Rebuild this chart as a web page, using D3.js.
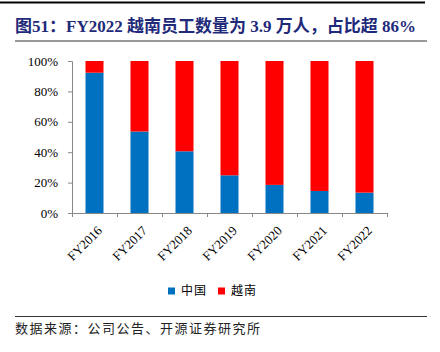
<!DOCTYPE html>
<html>
<head>
<meta charset="utf-8">
<script src="https://cdn.jsdelivr.net/npm/d3@7"></script>
<style>
  body { margin: 0; background: #fff; }
  svg { display: block; }
</style>
</head>
<body>
<div id="chart"></div>
<script>
// data
const years = ["FY2016", "FY2017", "FY2018", "FY2019", "FY2020", "FY2021", "FY2022"];
const china = [0.923, 0.536, 0.406, 0.248, 0.185, 0.145, 0.134];
const vietnam = china.map(v => 1 - v); // share, the two add up to 100%
const yTicks = [0, 0.2, 0.4, 0.6, 0.8, 1];
const seriesNames = ["中国", "越南"];
const colors = ["#0070C0", "#FF0000"];

const W = 440, H = 352;
const margin = { top: 61, left: 72, right: 53, bottom: 139 };
const width = W - margin.left - margin.right;
const height = H - margin.top - margin.bottom;
const serif = "'Liberation Serif', 'Times New Roman', serif";
const cjk = "'Noto Sans CJK SC', sans-serif";

const svg = d3.select("#chart").append("svg")
  .attr("width", W)
  .attr("height", H);

// header / footer rules and text
svg.append("line").attr("x1", 0).attr("x2", 425).attr("y1", 2.5).attr("y2", 2.5)
  .attr("stroke", "#000").attr("stroke-width", 2);
svg.append("text")
  .attr("x", 15).attr("y", 32)
  .attr("fill", "#1F2A7A")
  .attr("font-weight", "bold")
  .attr("font-size", 17)
  .style("font-family", serif + ", " + cjk)
  .text("图51：FY2022 越南员工数量为 3.9 万人，占比超 86%");
svg.append("line").attr("x1", 15).attr("x2", 427).attr("y1", 41).attr("y2", 41)
  .attr("stroke", "#999").attr("stroke-width", 2);
svg.append("line").attr("x1", 15).attr("x2", 427).attr("y1", 316.5).attr("y2", 316.5)
  .attr("stroke", "#333").attr("stroke-width", 1);
svg.append("text")
  .attr("x", 15).attr("y", 333)
  .attr("fill", "#222")
  .attr("font-size", 13)
  .attr("letter-spacing", 1.5)
  .style("font-family", cjk)
  .text("数据来源：公司公告、开源证券研究所");

const g = svg.append("g").attr("transform", `translate(${margin.left},${margin.top})`);

const x = d3.scaleBand().domain(years).range([0, width]).paddingInner(0.6).paddingOuter(0.3);
const y = d3.scaleLinear().domain([0, 1]).range([height, 0]);

const stackData = years.map((yr, i) => ({ year: yr, "中国": china[i], "越南": vietnam[i] }));
const stacked = d3.stack().keys(seriesNames)(stackData);

g.selectAll("g.series")
  .data(stacked)
  .join("g")
  .attr("class", "series")
  .attr("fill", (d, i) => colors[i])
  .selectAll("rect")
  .data(d => d)
  .join("rect")
  .attr("x", d => x(d.data.year))
  .attr("y", d => y(d[1]))
  .attr("width", x.bandwidth())
  .attr("height", d => y(d[0]) - y(d[1]));

// y axis
const yAxis = g.append("g")
  .call(d3.axisLeft(y).tickValues(yTicks).tickFormat(d3.format(".0%")).tickSize(4).tickPadding(10));
yAxis.select(".domain").attr("stroke", "#888");
yAxis.selectAll(".tick line").attr("stroke", "#888");
yAxis.selectAll("text").attr("font-size", 13).attr("fill", "#000").style("font-family", serif);

// x axis with ticks at the category boundaries
const bounds = d3.range(years.length + 1).map(i => i * x.step());
const xLin = d3.scaleLinear().domain([0, width]).range([0, width]);
const xAxis = g.append("g")
  .attr("transform", `translate(0,${height})`)
  .call(d3.axisBottom(xLin).tickValues(bounds).tickSize(4).tickFormat(""));
xAxis.select(".domain").attr("stroke", "#888");
xAxis.selectAll(".tick line").attr("stroke", "#888");

g.append("g")
  .selectAll("text")
  .data(years)
  .join("text")
  .attr("transform", d => `translate(${x(d) + x.bandwidth() / 2 + 2},${height + 12}) rotate(-45)`)
  .attr("text-anchor", "end")
  .attr("dy", "0.7em")
  .attr("font-size", 13)
  .style("font-family", serif)
  .text(d => d);

// legend
const legend = svg.append("g").attr("transform", "translate(168,291)");
const items = legend.selectAll("g")
  .data(seriesNames)
  .join("g")
  .attr("transform", (d, i) => `translate(${i * 50},0)`);
items.append("rect")
  .attr("x", 0).attr("y", -3.5).attr("width", 7).attr("height", 7)
  .attr("fill", (d, i) => colors[i]);
items.append("text")
  .attr("x", 13).attr("y", 0)
  .attr("dy", "0.35em")
  .attr("font-size", 12)
  .attr("letter-spacing", 1)
  .style("font-family", cjk)
  .text(d => d);
</script>
</body>
</html>
